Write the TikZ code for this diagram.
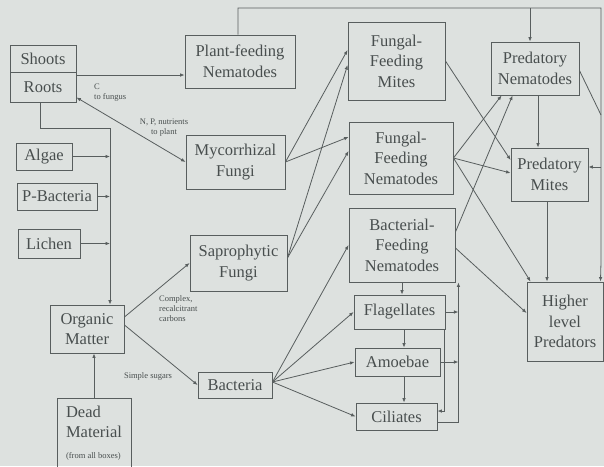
\documentclass[tikz,border=0pt]{standalone}
\usepackage{fontspec}
\setmainfont{Liberation Serif}
\usepackage{tikz}
\usetikzlibrary{arrows.meta,positioning,calc}
\definecolor{paper}{RGB}{221,225,223}
\definecolor{ink}{RGB}{88,94,94}
\definecolor{txt}{RGB}{72,78,78}
\newcommand{\bxfont}{\fontsize{16.5}{20.5}\selectfont}
\newcommand{\lbfont}{\fontsize{8.5}{10}\selectfont}
\tikzstyle{box} = [draw=ink,line width=0.9pt,text=txt,align=center,inner sep=1pt,font=\bxfont]
\tikzstyle{lbl} = [text=txt,font=\lbfont,inner sep=0pt]
\tikzstyle{link} = [draw=ink,line width=0.8pt]
\tikzset{>={Latex[length=4.5pt,width=3.6pt]}}

\begin{document}
\begin{tikzpicture}[x=1pt,y=-1pt]
  \useasboundingbox (0,0) rectangle (604,466);
  \fill[paper] (0,0) rectangle (604,466);

  % plants and inputs
  \node[box,minimum width=66pt,minimum height=27pt] (shoots) at (43,58.5) {Shoots};
  \node[box,minimum width=66pt,minimum height=30pt] (roots) at (43,87) {Roots};
  \node[box,minimum width=56pt,minimum height=27pt] (algae) at (44,156.5) {Algae};
  \node[box,minimum width=80pt,minimum height=27pt] (pbact) at (57,196.5) {P-Bacteria};
  \node[box,minimum width=62pt,minimum height=29pt] (lichen) at (49,243.5) {Lichen};
  \node[box,minimum width=74pt,minimum height=48pt] (om) at (87,329) {Organic\\Matter};
  \node[box,align=left,minimum width=74pt,minimum height=70pt] (dead) at (94,433)
    {Dead\\Material\\{\lbfont(from all boxes)}};

  % first consumers
  \node[box,minimum width=110pt,minimum height=53pt] (pfn) at (240,61.5) {Plant-feeding\\Nematodes};
  \node[box,minimum width=99pt,minimum height=54pt] (myco) at (235.5,162) {Mycorrhizal\\Fungi};
  \node[box,minimum width=97pt,minimum height=56pt] (sapro) at (238.5,263) {Saprophytic\\Fungi};
  \node[box,minimum width=74pt,minimum height=26pt] (bact) at (235,385) {Bacteria};

  \node[box,minimum width=97pt,minimum height=78pt] (ffm) at (396.5,61) {Fungal-\\Feeding\\Mites};
  \node[box,minimum width=104pt,minimum height=72pt] (ffn) at (401,158) {Fungal-\\Feeding\\Nematodes};
  \node[box,minimum width=106pt,minimum height=74pt] (bfn) at (402,245) {Bacterial-\\Feeding\\Nematodes};
  \node[box,minimum width=91pt,minimum height=34pt] (flag) at (399.5,312) {Flagellates};
  \node[box,minimum width=85pt,minimum height=28pt] (amoe) at (397.5,362) {Amoebae};
  \node[box,minimum width=81pt,minimum height=27pt] (cil) at (396.5,416.5) {Ciliates};

  % predators
  \node[box,minimum width=88pt,minimum height=53pt] (pn) at (535,68.5) {Predatory\\Nematodes};
  \node[box,minimum width=77pt,minimum height=53pt] (pm) at (549.5,174.5) {Predatory\\Mites};
  \node[box,minimum width=76pt,minimum height=79pt] (hlp) at (565,321.5) {Higher\\level\\Predators};

  % roots and organic matter
  \coordinate (r1) at ([yshift=12pt]roots.east);
  \draw[link,->] (r1) -- (r1 -| pfn.west);
  \draw[link,<->] ([yshift=5pt]roots.south east) -- (myco.west);
  \coordinate (bus) at (110,128);
  \draw[link,->] ([xshift=-3pt]roots.south) |- (bus) -- (bus |- om.north);
  \draw[link,->] (algae.east) -- (algae.east -| bus);
  \draw[link,->] (pbact.east) -- (pbact.east -| bus);
  \draw[link,->] (lichen.east) -- (lichen.east -| bus);
  \draw[link,->] (dead.north) -- (dead.north |- om.south);
  \draw[link,->] ([yshift=12pt]om.east) -- (sapro.west);
  \draw[link,->] ([yshift=4pt]om.east) -- (bact.west);

  \node[lbl,anchor=north west,align=left] (cfung) at (94,84) {C\\to fungus};
  \node[lbl,align=center] (nutr) at (164,128) {N, P, nutrients\\to plant};
  \node[lbl,anchor=north west,align=left] (carb) at (159,295) {Complex,\\recalcitrant\\carbons};
  \node[lbl] (sugar) at (148,376) {Simple sugars};

  % fungi and bacteria to grazers
  \draw[link,->] (myco.east) -- ([yshift=11pt]ffm.west);
  \draw[link,->] (myco.east) -- ([yshift=21pt]ffn.west);
  \draw[link,->] ([yshift=5pt]sapro.east) -- ([yshift=-4pt]ffm.west);
  \draw[link,->] ([yshift=5pt]sapro.east) -- ([yshift=7pt]ffn.west);
  \foreach \tgt in {bfn,flag,amoe,cil}
    \draw[link,->] ([yshift=3pt]bact.east) -- (\tgt.west);

  % protozoa
  \draw[link,->] (bfn.south) -- (bfn.south |- flag.north);
  \coordinate (f1) at ([xshift=4.5pt]flag.south);
  \draw[link,->] (f1) -- (f1 |- amoe.north);
  \coordinate (a1) at ([xshift=6.5pt]amoe.south);
  \draw[link,->] (a1) -- (a1 |- cil.north);
  \coordinate (rl) at ([xshift=3pt]bfn.south east);
  \draw[link,->] ([yshift=-5.5pt]cil.east) -| (rl);
  \draw[link,->] (flag.east) -- (flag.east -| rl);
  \draw[link,->] (amoe.east) -- (amoe.east -| rl);
  \draw[link,->] ([xshift=-1pt]flag.south east) |- ([yshift=5.5pt]cil.east);

  % grazers to predators
  \draw[link,->] (ffm.east) -- ([yshift=14.5pt]pm.west);
  \draw[link,->] (ffn.east) -- ([xshift=11pt]pn.south west);
  \draw[link,->] (ffn.east) -- ([yshift=1.5pt]pm.west);
  \draw[link,->] (ffn.east) -- ([xshift=4pt]hlp.north west);
  \draw[link,->] ([yshift=13pt]bfn.east) -- ([xshift=22pt]pn.south west);
  \draw[link,->] ([yshift=-3pt]bfn.east) -- ([yshift=8.5pt]hlp.west);
  \coordinate (n1) at ([xshift=3pt]pn.south);
  \draw[link,->] (n1) -- (n1 |- pm.north);
  \coordinate (m1) at ([xshift=-2.5pt]pm.south);
  \draw[link,->] (m1) -- (m1 |- hlp.north);

  % plant feeders loop
  \coordinate (tr) at (601,8);
  \coordinate (br) at (601,262);
  \draw[link,->] ([xshift=-2pt]pfn.north) |- (tr) -- (br) -- ([xshift=-3pt]hlp.north east);
  \coordinate (p1) at ([xshift=-5pt]pn.north);
  \draw[link,->] (p1 |- tr) -- (p1);
  \coordinate (p2) at ([yshift=7.5pt]pm.east);
  \draw[link,->] (p2 -| tr) -- (p2);
  \coordinate (jr) at (601,115);
  \draw[link] ([yshift=-2pt]pn.east) -- (jr);
\end{tikzpicture}
\end{document}
